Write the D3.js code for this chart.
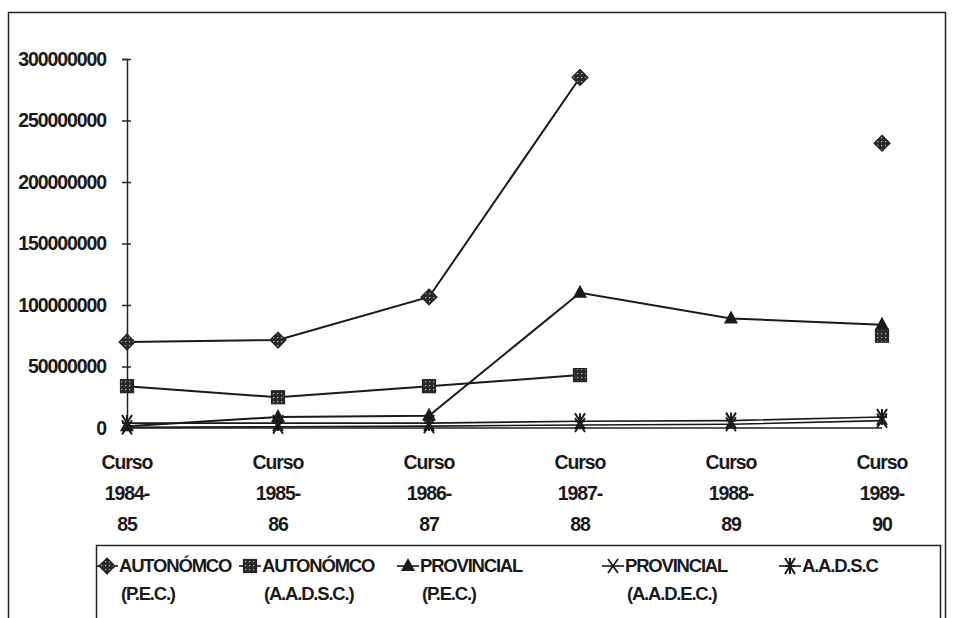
<!DOCTYPE html>
<html><head><meta charset="utf-8">
<script src="https://cdn.jsdelivr.net/npm/d3@7"></script>
<style>
body{margin:0;background:#fff}
text{font-family:"Liberation Sans",Arial,sans-serif;font-weight:bold;fill:#1a1a1a}
</style>
</head><body>
<svg id="c" width="953" height="618"></svg>
<script>
const categories = ["1984-85","1985-86","1986-87","1987-88","1988-89","1989-90"];
const categoryLabels = [["Curso","1984-","85"],["Curso","1985-","86"],["Curso","1986-","87"],["Curso","1987-","88"],["Curso","1988-","89"],["Curso","1989-","90"]];
const yTicks = [0,50000000,100000000,150000000,200000000,250000000,300000000];
const autonomicoPEC   = [70000000, 71500000, 106500000, 285000000, null, 231500000];
const autonomicoAADSC = [34000000, 25000000, 34000000, 43000000, null, 75000000];
const provincialPEC   = [1500000, 9000000, 10000000, 110000000, 89000000, 84000000];
const provincialAADEC = [500000, 1000000, 1500000, 2500000, 3000000, 6000000];
const aadsc           = [4000000, 4000000, 4000000, 5500000, 6000000, 9000000];
const seriesNames = [["AUTONÓMCO","(P.E.C.)"],["AUTONÓMCO","(A.A.D.S.C.)"],["PROVINCIAL","(P.E.C.)"],["PROVINCIAL","(A.A.D.E.C.)"],["A.A.D.S.C",""]];
const seriesMarkers = ["diamond","square","triangle","x","asterisk"];

const series = [autonomicoPEC, autonomicoAADSC, provincialPEC, provincialAADEC, aadsc];

const svg = d3.select("#c");
const defs = svg.append("defs");
const pat = defs.append("pattern").attr("id","dots").attr("width",4).attr("height",4).attr("patternUnits","userSpaceOnUse");
pat.append("rect").attr("width",4).attr("height",4).attr("fill","#2a2a2a");
pat.append("rect").attr("x",1).attr("y",1).attr("width",1.2).attr("height",1.2).attr("fill","#bbb");

// outer frame
svg.append("rect").attr("x",8.5).attr("y",12.5).attr("width",937).attr("height",620)
  .attr("fill","none").attr("stroke","#222").attr("stroke-width",1.5);

const x = d3.scalePoint().domain(categories).range([127, 882]);
const y = d3.scaleLinear().domain([0, 300000000]).range([428, 59]);

const FS = "19.5px", LS = "-1.1px", LFS = "18.5px", LLS = "-1.2px";

// y axis
const ya = svg.append("g").attr("transform","translate(127,0)")
  .call(d3.axisLeft(y).tickValues(yTicks).tickFormat(d3.format("d")).tickSize(5).tickPadding(16));
ya.select(".domain").attr("stroke","#222").attr("stroke-width",1.5);
ya.selectAll(".tick line").attr("stroke","#222").attr("stroke-width",1.5).attr("x2",-5).attr("x1",4);
ya.selectAll(".tick text").style("font-size",FS).style("letter-spacing",LS).attr("fill","#1a1a1a");

// x axis line
svg.append("line").attr("x1",x(categories[0])).attr("x2",x(categories[5])).attr("y1",y(0)).attr("y2",y(0))
  .attr("stroke","#222").attr("stroke-width",1.5);

// category labels
const cl = svg.append("g");
categories.forEach((c,i)=>{
  categoryLabels[i].forEach((t,j)=>{
    cl.append("text").attr("x",x(c)).attr("y",469 + j*31).attr("text-anchor","middle")
      .style("font-size",FS).style("letter-spacing",LS).text(t);
  });
});

function marker(g, type, cx, cy){
  if(type==="diamond"){
    g.append("path").attr("d",`M${cx},${cy-8}L${cx+8},${cy}L${cx},${cy+8}L${cx-8},${cy}Z`)
      .attr("fill","url(#dots)").attr("stroke","#222").attr("stroke-width",1.2);
  } else if(type==="square"){
    g.append("rect").attr("x",cx-6.5).attr("y",cy-6.5).attr("width",13).attr("height",13)
      .attr("fill","url(#dots)").attr("stroke","#222").attr("stroke-width",1.2);
  } else if(type==="triangle"){
    g.append("path").attr("d",`M${cx},${cy-8}L${cx+7},${cy+5}L${cx-7},${cy+5}Z`).attr("fill","#1a1a1a");
  } else if(type==="x"){
    g.append("path").attr("d",`M${cx-5},${cy-7}L${cx+5},${cy+7}M${cx+5},${cy-7}L${cx-5},${cy+7}`)
      .attr("stroke","#1a1a1a").attr("stroke-width",1.8);
  } else {
    g.append("path").attr("d",`M${cx-5},${cy-8}L${cx+5},${cy+8}M${cx+5},${cy-8}L${cx-5},${cy+8}M${cx},${cy-8}L${cx},${cy+8}M${cx-5},${cy}L${cx+5},${cy}`)
      .attr("stroke","#1a1a1a").attr("stroke-width",2);
  }
}

const line = d3.line().defined(d=>d[1]!=null).x(d=>x(d[0])).y(d=>y(d[1]));
const plot = svg.append("g");
[4,3,2,1,0].forEach(si=>{
  const data = categories.map((c,i)=>[c, series[si][i]]);
  plot.append("path").datum(data).attr("d",line).attr("fill","none").attr("stroke","#1a1a1a").attr("stroke-width",si>=3?1.6:2);
});
[4,3,2,1,0].forEach(si=>{
  categories.forEach((c,i)=>{
    const v = series[si][i];
    if(v!=null) marker(plot, seriesMarkers[si], x(c), y(v));
  });
});

// legend
svg.append("rect").attr("x",96.5).attr("y",545.5).attr("width",844).attr("height",80)
  .attr("fill","none").attr("stroke","#222").attr("stroke-width",1.5);
const legX = [107, 250, 408, 613, 790];
const lg = svg.append("g");
seriesNames.forEach((nm,i)=>{
  const mx = legX[i];
  lg.append("line").attr("x1",mx-11).attr("x2",mx+11).attr("y1",566).attr("y2",566).attr("stroke","#1a1a1a").attr("stroke-width",1.6);
  marker(lg, seriesMarkers[i], mx, 566);
  lg.append("text").attr("x",mx+12).attr("y",572).style("font-size",LFS).style("letter-spacing",LLS).text(nm[0]);
  if(nm[1]) lg.append("text").attr("x",mx+14).attr("y",600).style("font-size",LFS).style("letter-spacing",LLS).text(nm[1]);
});
</script>
</body></html>
